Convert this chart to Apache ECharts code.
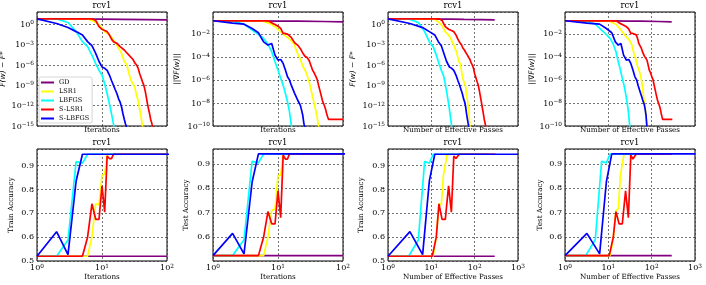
<!DOCTYPE html>
<html><head><meta charset="utf-8">
<script src="https://cdn.jsdelivr.net/npm/echarts@6/dist/echarts.min.js"></script>
<style>html,body{margin:0;padding:0;background:#fff}#c{width:706px;height:285px}</style>
</head><body><div id="c"></div>
<script>
const methods = ['GD', 'LSR1', 'LBFGS', 'S-LSR1', 'S-LBFGS'];
const colors = ['#800080', '#ffff00', '#00ffff', '#ff0000', '#0000ff'];
const datasetName = 'rcv1';

// ---- GD ----
const gdIter  = [1, 2, 5, 10, 20, 50, 100];
const gdPass  = [1, 4, 13, 28, 57, 143, 290];
const gdFgap  = [6.2, 6.0, 5.8, 5.5, 5.1, 4.7, 4.4];
const gdGrad  = [0.135, 0.134, 0.131, 0.128, 0.124, 0.117, 0.11];
const gdTrain = [0.52, 0.52, 0.52, 0.52, 0.52, 0.52, 0.52];
const gdTest  = [0.525, 0.525, 0.525, 0.525, 0.525, 0.525, 0.525];

// ---- LSR1 ----
const lsIter  = [1,2,3,4,5,6,7,8,9,10,11,12,13,14,15,16,17,18,19,20,22,24,26,28,30,32,34,36,38,40,42,44,50,100];
const lsPass  = [1,3,5,7,9,11,13,15,17,19,21,23,25,27,29,31,33,35,37,39,43,47,51,55,59,62,65,68,72,75,78,82,93,190];
const lsFgap  = [6.2,6.2,6.2,6.2,6.2,6.2,3.5,1.8,0.79,0.25,7.9e-2,4.6e-2,2.5e-2,1.17e-2,4.7e-3,2.7e-3,8.5e-4,2.75e-4,1.26e-4,5.0e-5,
                 3.2e-6,1.26e-6,5.0e-8,5.0e-9,1.6e-9,5.0e-10,3.2e-11,6.3e-12,3.2e-13,2.0e-14,8e-16,3e-17,1e-20,1e-20];
const lsGrad  = [0.135,0.135,0.135,0.135,0.135,0.117,8.9e-2,6.5e-2,4.1e-2,2.4e-2,1.48e-2,1.07e-2,6.3e-3,4.8e-3,3.7e-3,2.5e-3,1.66e-3,1.05e-3,4.0e-4,2.0e-4,
                 6.3e-5,1.6e-5,7.1e-6,2.6e-6,6.9e-7,1.8e-7,3.5e-8,9.1e-9,2.4e-9,6.3e-10,1.0e-10,1.6e-11,1e-12,1e-12];
const lsTrain = [0.52,0.52,0.52,0.52,0.52,0.52,0.6,0.74,0.735,0.86,0.865,0.945,0.948,0.948,0.948,0.948,0.948,0.948,0.948,0.948,
                 0.948,0.948,0.948,0.948,0.948,0.948,0.948,0.948,0.948,0.948,0.948,0.948,0.948,0.948];
const lsTest  = [0.525,0.525,0.525,0.525,0.525,0.525,0.6,0.71,0.716,0.853,0.853,0.94,0.941,0.941,0.941,0.941,0.941,0.941,0.941,0.941,
                 0.941,0.941,0.941,0.941,0.941,0.941,0.941,0.941,0.941,0.941,0.941,0.941,0.941,0.941];

// ---- LBFGS ----
const lbIter  = [1,2,3,4,5,6,7,8,9,10,11,12,13,14,15,16,17,20,30,50,100];
const lbPass  = [1,3,5,7,9,11,13,15,17,19,21,23,25,27,29,31,33,39,59,99,199];
const lbFgap  = [6.2,6.2,1.8,8.1e-2,2.7e-3,5.0e-4,2.8e-5,1.6e-6,1.6e-7,3.2e-8,1.6e-9,5.6e-11,2.0e-12,6.3e-14,2.0e-15,1e-16,1e-17,1e-20,1e-20,1e-20,1e-20];
const lbGrad  = [0.135,0.126,6.9e-2,2.1e-2,8.7e-3,4.0e-3,1.26e-3,2.8e-4,3.7e-5,7.1e-6,1.35e-6,3.5e-7,6.8e-8,1.26e-8,1.74e-9,1.2e-10,1.6e-11,1e-12,1e-12,1e-12,1e-12];
const lbTrain = [0.52,0.52,0.588,0.917,0.911,0.948,0.948,0.948,0.948,0.948,0.948,0.948,0.948,0.948,0.948,0.948,0.948,0.948,0.948,0.948,0.948];
const lbTest  = [0.525,0.525,0.59,0.911,0.904,0.941,0.941,0.941,0.941,0.941,0.941,0.941,0.941,0.941,0.941,0.941,0.941,0.941,0.941,0.941,0.941];

// ---- S-LSR1 ----
const slIter  = [1,2,3,4,5,6,7,8,9,10,11,12,13,14,15,16,17,18,19,20,22,24,26,28,30,32,34,36,38,40,42,44,46,48,50,52,54,56,58,60,70,80,90,100];
const slPass  = [1,3.2,5.5,8,10.5,13,15,17.7,21,25,29,33,37,41,44,46.5,48.5,50,51.5,53,
                 58,63,68,73,78,83,88,94,100,107,114,121,128,136,145,152,159,166,173,180,212,243,272,300];
const slFgap  = [6.2,6.2,6.2,6.2,6.2,6.2,6.2,3.5,0.45,0.18,0.115,8.1e-2,2.6e-2,6.3e-3,2.7e-3,1.9e-3,1.5e-3,8.5e-4,5.0e-4,3.4e-4,
                 1.6e-4,6.3e-5,2.8e-5,1.26e-5,6.3e-6,2.0e-6,1.0e-6,3.2e-7,5.0e-8,1.26e-8,3.2e-9,1.0e-9,1.8e-10,2.0e-11,2.0e-12,3.2e-13,6.3e-14,1.0e-14,3.2e-15,8e-16,
                 1e-20,1e-20,1e-20,1e-20];
const slGrad  = [0.135,0.135,0.135,0.135,0.135,0.135,0.135,8.9e-2,6.5e-2,4.6e-2,2.9e-2,1.07e-2,1.07e-2,9.3e-3,8.1e-3,4.8e-3,2.8e-3,1.66e-3,1.26e-3,1.05e-3,
                 5.4e-4,2.2e-4,1.15e-4,8.9e-5,5.2e-5,1.9e-5,7.1e-6,4.2e-6,2.1e-6,1.1e-6,3.5e-7,1.3e-7,4.8e-8,1.8e-8,9.1e-9,5.4e-9,2.75e-9,1.23e-9,6.3e-10,3.7e-10,
                 3.7e-10,3.7e-10,3.7e-10,3.7e-10];
const slTrain = [0.52,0.52,0.52,0.52,0.52,0.6,0.74,0.675,0.675,0.815,0.705,0.94,0.93,0.93,0.948,0.948,0.948,0.948,0.948,0.948,
                 0.948,0.948,0.948,0.948,0.948,0.948,0.948,0.948,0.948,0.948,0.948,0.948,0.948,0.948,0.948,0.948,0.948,0.948,0.948,0.948,
                 0.948,0.948,0.948,0.948];
const slTest  = [0.525,0.525,0.525,0.525,0.525,0.6,0.705,0.655,0.655,0.79,0.68,0.936,0.92,0.92,0.941,0.941,0.941,0.941,0.941,0.941,
                 0.941,0.941,0.941,0.941,0.941,0.941,0.941,0.941,0.941,0.941,0.941,0.941,0.941,0.941,0.941,0.941,0.941,0.941,0.941,0.941,
                 0.941,0.941,0.941,0.941];

// ---- S-LBFGS ----
const sbIter  = [1,2,3,4,5,6,7,8,9,10,11,12,13,14,15,16,17,18,19,20,21,22,23,24,25,26,30,50,100,330];
const sbPass  = [1,3.2,6.3,9,12,14.5,17,19.5,22.5,26,29.5,33,37,41,45,48.5,52,55.5,59,62,65,68,71,74,76.5,79,90,150,300,1000];
const sbFgap  = [6.2,1.26,0.32,8.1e-2,2.6e-2,2.7e-3,6.8e-4,5.0e-5,3.2e-6,5.0e-7,3.2e-7,1.6e-7,3.2e-8,5.0e-9,1.0e-9,2.2e-10,5.6e-11,1.0e-11,3.2e-12,6.3e-13,
                 6.3e-14,1.0e-14,2.0e-15,6.3e-16,1e-16,1e-17,1e-20,1e-20,1e-20,1e-20];
const sbGrad  = [0.135,8.3e-2,6.9e-2,2.9e-2,1.23e-2,2.0e-3,1.05e-3,1.45e-3,1.4e-4,5.2e-5,5.9e-5,2.7e-5,7.1e-6,1.86e-6,1.0e-6,3.5e-7,1.5e-7,6.8e-8,3.5e-8,1.8e-8,
                 1.26e-8,6.6e-9,2.5e-9,8.9e-10,1.7e-10,6.3e-11,1e-11,1e-12,1e-12,1e-12];
const sbTrain = [0.52,0.623,0.527,0.836,0.948,0.948,0.948,0.948,0.948,0.948,0.948,0.948,0.948,0.948,0.948,0.948,0.948,0.948,0.948,0.948,
                 0.948,0.948,0.948,0.948,0.948,0.948,0.948,0.948,0.948,0.948];
const sbTest  = [0.525,0.616,0.532,0.826,0.941,0.941,0.941,0.941,0.941,0.941,0.941,0.941,0.941,0.941,0.941,0.941,0.941,0.941,0.941,0.941,
                 0.941,0.941,0.941,0.941,0.941,0.941,0.941,0.941,0.941,0.941];

const runs = [
  {iter: gdIter, pass: gdPass, fgap: gdFgap, grad: gdGrad, train: gdTrain, test: gdTest},
  {iter: lsIter, pass: lsPass, fgap: lsFgap, grad: lsGrad, train: lsTrain, test: lsTest},
  {iter: lbIter, pass: lbPass, fgap: lbFgap, grad: lbGrad, train: lbTrain, test: lbTest},
  {iter: slIter, pass: slPass, fgap: slFgap, grad: slGrad, train: slTrain, test: slTest},
  {iter: sbIter, pass: sbPass, fgap: sbFgap, grad: sbGrad, train: sbTrain, test: sbTest}
];

const panels = [
  {x: 'iter', y: 'fgap',  col: 0, row: 0},
  {x: 'iter', y: 'grad',  col: 1, row: 0},
  {x: 'pass', y: 'fgap',  col: 2, row: 0},
  {x: 'pass', y: 'grad',  col: 3, row: 0},
  {x: 'iter', y: 'train', col: 0, row: 1},
  {x: 'iter', y: 'test',  col: 1, row: 1},
  {x: 'pass', y: 'train', col: 2, row: 1},
  {x: 'pass', y: 'test',  col: 3, row: 1}
];
const colLeft = [37, 213, 388, 565];
const colW = 130;
const rowTop = [12, 149];
const rowH = [114, 112];
const yNameGap = {0: 30, 1: 32, 2: 31, 3: 29, 4: 22, 5: 23, 6: 23, 7: 21};

const SERIF = 'DejaVu Serif';
function powLabel(v) {
  const e = Math.round(Math.log10(v));
  return '{b|10}{s|' + String(e).replace('-', '−') + '}';
}
const powRich = {
  b: {fontSize: 8, fontFamily: SERIF, color: '#000', verticalAlign: 'bottom', lineHeight: 9},
  s: {fontSize: 5.8, fontFamily: SERIF, color: '#000', verticalAlign: 'top', lineHeight: 7, padding: [0, 0, 4, 0]}
};
const gridLine = {show: true, lineStyle: {color: '#3a3a3a', type: [2, 2], width: 0.7}};

const grids = [], xAxes = [], yAxes = [], series = [], titles = [];
panels.forEach((p, i) => {
  grids.push({left: colLeft[p.col], top: rowTop[p.row], width: colW, height: rowH[p.row],
    show: true, borderColor: '#000', borderWidth: 1, backgroundColor: '#fff', outerBoundsMode: 'none', containLabel: false});
  titles.push({text: datasetName, left: colLeft[p.col] + colW / 2, top: p.row === 0 ? 1 : 138, textAlign: 'center', padding: 0,
    textStyle: {fontSize: 8.5, fontWeight: 'normal', fontFamily: SERIF, color: '#000'}});
  const bottomRow = p.row === 1;
  xAxes.push({
    type: 'log', logBase: 10, gridIndex: i, min: 1, max: p.x === 'iter' ? 100 : 1000,
    axisLine: {show: false}, axisTick: {show: false},
    axisLabel: {show: bottomRow, formatter: powLabel, rich: powRich, fontSize: 8, color: '#000', fontFamily: SERIF, margin: 2},
    splitLine: gridLine,
    name: p.x === 'iter' ? 'Iterations' : 'Number of Effective Passes',
    nameLocation: 'middle', nameGap: bottomRow ? 12 : 1,
    nameTextStyle: {fontSize: 7.2, color: '#000', fontFamily: SERIF}
  });
  let ya = {gridIndex: i, axisLine: {show: false}, axisTick: {show: false}, splitLine: gridLine,
    nameLocation: 'middle', nameGap: yNameGap[i], nameRotate: 90,
    axisLabel: {fontSize: 8, color: '#000', fontFamily: SERIF, margin: 3, showMaxLabel: false}};
  if (p.y === 'fgap') {
    Object.assign(ya, {type: 'log', logBase: 1000, min: 1e-15, max: 63, name: 'F(w) − F*',
      nameTextStyle: {fontSize: 7.5, color: '#000', fontFamily: 'DejaVu Sans', fontStyle: 'italic'}});
    ya.axisLabel.formatter = powLabel; ya.axisLabel.rich = powRich;
  } else if (p.y === 'grad') {
    Object.assign(ya, {type: 'log', logBase: 100, min: 1e-10, max: 0.78, name: '||∇F(w)||',
      nameTextStyle: {fontSize: 7.5, color: '#000', fontFamily: 'DejaVu Sans', fontStyle: 'italic'}});
    ya.axisLabel.formatter = powLabel; ya.axisLabel.rich = powRich;
  } else if (p.y === 'train') {
    Object.assign(ya, {type: 'value', min: 0.5, max: 0.97, name: 'Train Accuracy',
      nameTextStyle: {fontSize: 7.2, color: '#000', fontFamily: SERIF}});
    ya.axisLabel.formatter = v => v.toFixed(1);
  } else {
    Object.assign(ya, {type: 'value', min: 0.503, max: 0.961, name: 'Test Accuracy',
      nameTextStyle: {fontSize: 7.2, color: '#000', fontFamily: SERIF}});
    ya.axisLabel.formatter = v => v.toFixed(1);
    ya.axisLabel.showMinLabel = false;
  }
  yAxes.push(ya);
  runs.forEach((r, m) => {
    const xs = r[p.x], ys = r[p.y];
    series.push({
      name: methods[m], type: 'line', xAxisIndex: i, yAxisIndex: i,
      data: xs.map((xv, k) => [xv, ys[k]]),
      symbol: 'none', showSymbol: false, clip: true,
      color: colors[m], itemStyle: {color: colors[m]},
      lineStyle: {color: colors[m], width: 1.7},
      emphasis: {disabled: true}, silent: true
    });
  });
});

const chart = echarts.init(document.getElementById('c'), null, {renderer: 'canvas'});
chart.setOption({
  animation: false,
  backgroundColor: '#fff',
  textStyle: {fontFamily: SERIF},
  title: titles,
  legend: {
    data: methods, left: 39, top: 77, orient: 'vertical', icon: 'rect',
    itemWidth: 13, itemHeight: 2, itemGap: 2, padding: [2, 3, 1, 2],
    backgroundColor: '#fff', borderColor: '#ccc', borderWidth: 0.8, borderRadius: 2,
    textStyle: {fontSize: 6.5, fontFamily: SERIF, color: '#000', lineHeight: 7},
    selectedMode: false
  },
  grid: grids, xAxis: xAxes, yAxis: yAxes, series: series
});
</script></body></html>
